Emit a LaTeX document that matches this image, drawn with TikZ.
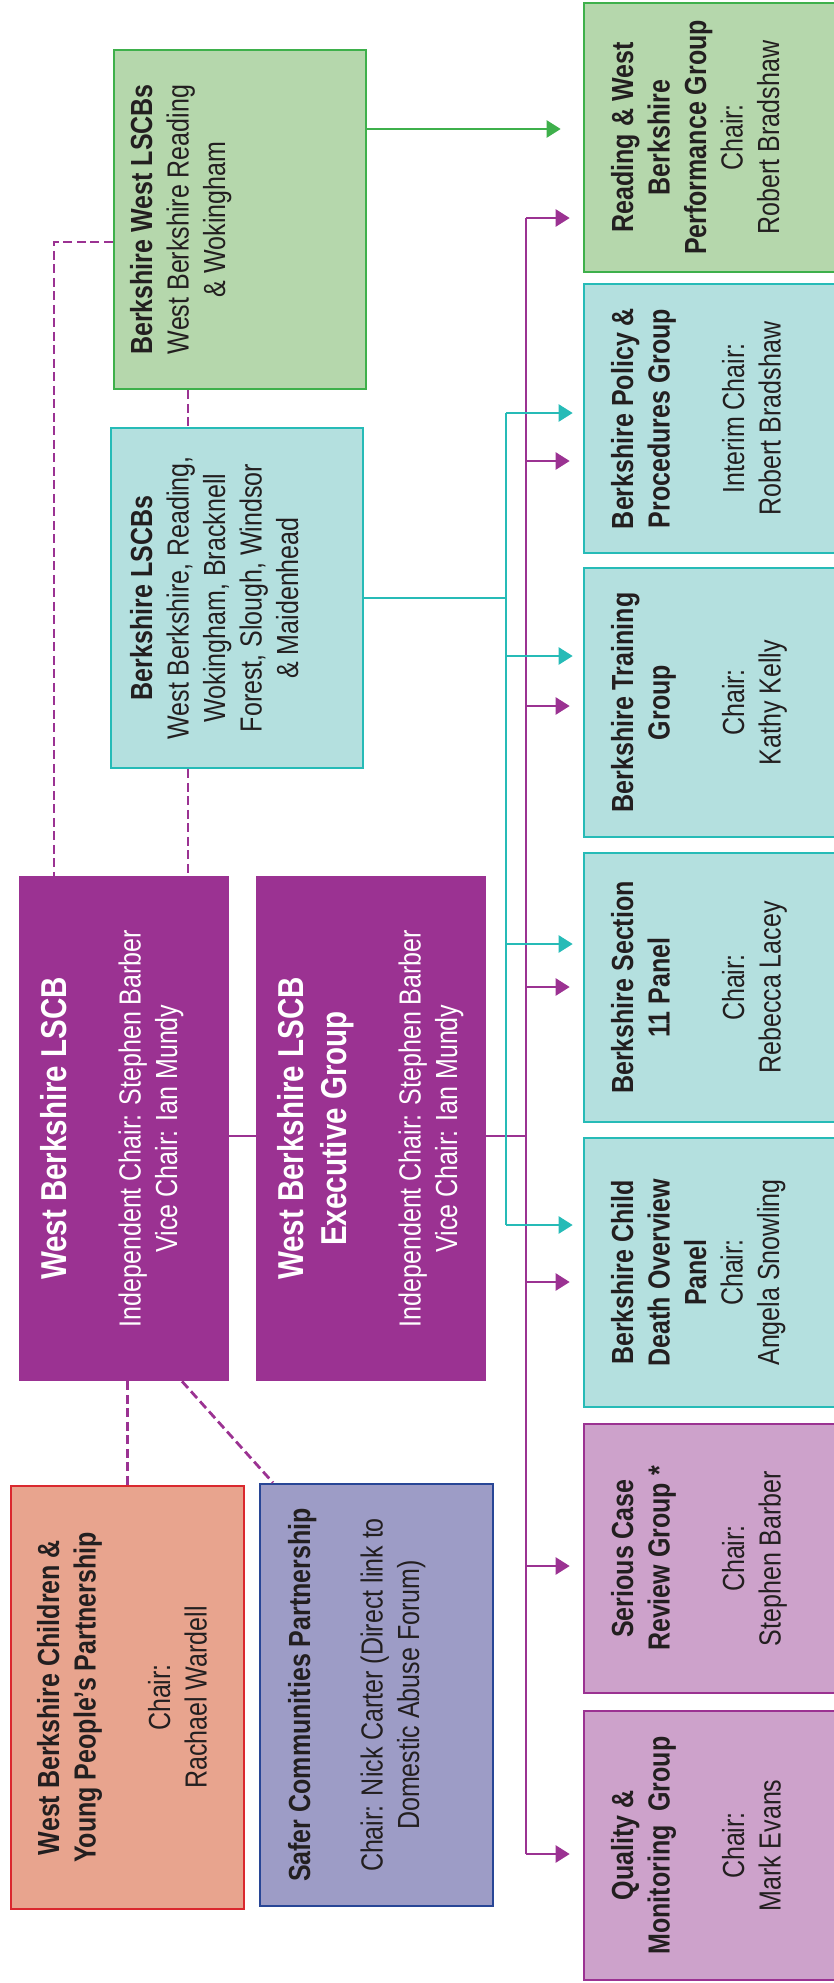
\documentclass[tikz,border=0pt]{standalone}
\usepackage{fontspec}
\setmainfont[FakeStretch=0.82]{Liberation Sans}
\usetikzlibrary{arrows.meta}

\definecolor{lscbpurple}{RGB}{155,50,146}
\definecolor{filllilac}{RGB}{205,162,203}
\definecolor{bordercyan}{RGB}{38,187,183}
\definecolor{fillcyan}{RGB}{180,224,223}
\definecolor{bordergreen}{RGB}{62,176,75}
\definecolor{fillgreen}{RGB}{181,215,172}
\definecolor{borderred}{RGB}{218,40,46}
\definecolor{fillsalmon}{RGB}{232,164,142}
\definecolor{bordernavy}{RGB}{40,70,150}
\definecolor{fillnavy}{RGB}{157,156,198}
\definecolor{textdark}{RGB}{35,31,32}

\tikzstyle{boxgreen}=[draw=bordergreen, fill=fillgreen, line width=2.6pt, inner sep=0pt, text=textdark]
\tikzstyle{boxcyan}=[draw=bordercyan, fill=fillcyan, line width=2.6pt, inner sep=0pt, text=textdark]
\tikzstyle{boxpurple}=[draw=lscbpurple, fill=lscbpurple, line width=2.6pt, inner sep=0pt, text=white]
\tikzstyle{boxlilac}=[draw=lscbpurple, fill=filllilac, line width=2.6pt, inner sep=0pt, text=textdark]
\tikzstyle{boxred}=[draw=borderred, fill=fillsalmon, line width=2.6pt, inner sep=0pt, text=textdark]
\tikzstyle{boxnavy}=[draw=bordernavy, fill=fillnavy, line width=2.6pt, inner sep=0pt, text=textdark]
\tikzstyle{pline}=[draw=lscbpurple, line width=2.3pt]
\tikzstyle{cline}=[draw=bordercyan, line width=2.3pt]
\tikzstyle{parrow}=[pline, -{Triangle[length=14pt,width=17pt]}, shorten >=13pt]
\tikzstyle{carrow}=[cline, -{Triangle[length=14pt,width=17pt]}, shorten >=10pt]
\tikzstyle{garrow}=[draw=bordergreen, line width=2.3pt, -{Triangle[length=14pt,width=17pt]}, shorten >=22pt]
\tikzstyle{pdash}=[draw=lscbpurple, line width=2.8pt, dash pattern=on 9pt off 4.5pt]

% box text: width, length, padding, lines
\newcommand{\vlabel}[4]{\rotatebox{90}{\parbox[c][#1][t]{#2}{\vspace*{#3}\centering\fontsize{30.5}{36.5}\selectfont #4\par}}}
\newcommand{\bighead}{\fontsize{36}{43}\selectfont\bfseries}

\begin{document}
\begin{tikzpicture}[x=1pt, y=-1pt]
   \useasboundingbox (0,0) rectangle (834,1983);
   \begin{scope}
      \node (0) at (240,219.5)[boxgreen] {\vlabel{252pt}{339pt}{16pt}{{\bfseries Berkshire West LSCBs}\\West Berkshire Reading\\\& Wokingham}};
      \node (1) at (237,598)[boxcyan] {\vlabel{252pt}{340pt}{19pt}{{\bfseries Berkshire LSCBs}\\West Berkshire, Reading,\\Wokingham, Bracknell\\Forest, Slough, Windsor\\\& Maidenhead}};
      \node (2) at (124,1128.5)[boxpurple] {\vlabel{208pt}{503pt}{20pt}{{\bighead West Berkshire LSCB\par}\vspace{38pt}Independent Chair: Stephen Barber\\Vice Chair: Ian Mundy}};
      \node (3) at (371,1128.5)[boxpurple] {\vlabel{228pt}{503pt}{20pt}{{\bighead West Berkshire LSCB\\Executive Group\par}\vspace{38pt}Independent Chair: Stephen Barber\\Vice Chair: Ian Mundy}};
      \node (4) at (127.5,1697.5)[boxred] {\vlabel{233pt}{423pt}{26pt}{{\bfseries West Berkshire Children \&\\Young People’s Partnership}\\[38pt]Chair:\\Rachael Wardell}};
      \node (5) at (376.5,1695)[boxnavy] {\vlabel{233pt}{422pt}{28pt}{{\bfseries Safer Communities Partnership}\\[36pt]Chair: Nick Carter (Direct link to\\Domestic Abuse Forum)}};
   \end{scope}
   \begin{scope}
      \node (6) at (722,137.5)[boxgreen] {\vlabel{276pt}{269pt}{27pt}{{\bfseries Reading \& West\\Berkshire\\Performance Group}\\Chair:\\Robert Bradshaw}};
      \node (7) at (722,418.5)[boxcyan] {\vlabel{276pt}{269pt}{27pt}{{\bfseries Berkshire Policy \&\\Procedures Group}\\[38pt]Interim Chair:\\Robert Bradshaw}};
      \node (8) at (722,702.5)[boxcyan] {\vlabel{276pt}{269pt}{27pt}{{\bfseries Berkshire Training\\Group}\\[38pt]Chair:\\Kathy Kelly}};
      \node (9) at (722,987.5)[boxcyan] {\vlabel{276pt}{269pt}{27pt}{{\bfseries Berkshire Section\\11 Panel}\\[38pt]Chair:\\Rebecca Lacey}};
      \node (10) at (722,1272.5)[boxcyan] {\vlabel{276pt}{269pt}{27pt}{{\bfseries Berkshire Child\\Death Overview\\Panel}\\Chair:\\Angela Snowling}};
      \node (11) at (722,1558.5)[boxlilac] {\vlabel{276pt}{269pt}{27pt}{{\bfseries Serious Case\\Review Group *}\\[38pt]Chair:\\Stephen Barber}};
      \node (12) at (722,1845.5)[boxlilac] {\vlabel{276pt}{269pt}{27pt}{{\bfseries Quality \&\\Monitoring~ Group}\\[38pt]Chair:\\Mark Evans}};
   \end{scope}
   \begin{scope}
      % links between the boards
      \coordinate (d0) at (54,242);
      \draw [pdash] (0.west |- d0) -- (d0) -- (d0 |- 2.north);
      \draw [pdash] (0.south -| 188,0) -- (1.north -| 188,0);
      \draw [pdash] (1.south -| 188,0) -- (2.north -| 188,0);
      \draw [pdash] (2.south -| 4.north) -- (4.north);
      \draw [pdash] (2.south -| 182,0) -- (5.north -| 273,0);
      \coordinate (g) at (366,129);
      \draw [garrow] (g) -- (g -| 6.west);
   \end{scope}
   \begin{scope}
      % purple line from the executive group
      \coordinate (e) at (526,1136);
      \coordinate (p0) at (526,218);
      \coordinate (p1) at (526,461);
      \coordinate (p2) at (526,706);
      \coordinate (p3) at (526,987);
      \coordinate (p4) at (526,1282);
      \coordinate (p5) at (526,1566);
      \coordinate (p6) at (526,1854);
      \draw [pline] (2.east |- e) -- (3.west |- e);
      \draw [pline] (3.east |- e) -- (e);
      \draw [pline] (p0) -- (p6);
      \draw [parrow] (p0) -- (p0 -| 6.west);
      \draw [parrow] (p1) -- (p1 -| 7.west);
      \draw [parrow] (p2) -- (p2 -| 8.west);
      \draw [parrow] (p3) -- (p3 -| 9.west);
      \draw [parrow] (p4) -- (p4 -| 10.west);
      \draw [parrow] (p5) -- (p5 -| 11.west);
      \draw [parrow] (p6) -- (p6 -| 12.west);
   \end{scope}
   \begin{scope}
      % cyan line from the Berkshire LSCBs
      \coordinate (c0) at (506,413);
      \coordinate (c1) at (506,656);
      \coordinate (c2) at (506,944);
      \coordinate (c3) at (506,1225);
      \draw [cline] (1.east) -- (1.east -| c0);
      \draw [cline] (c0) -- (c3);
      \draw [carrow] (c0) -- (c0 -| 7.west);
      \draw [carrow] (c1) -- (c1 -| 8.west);
      \draw [carrow] (c2) -- (c2 -| 9.west);
      \draw [carrow] (c3) -- (c3 -| 10.west);
   \end{scope}
\end{tikzpicture}
\end{document}
